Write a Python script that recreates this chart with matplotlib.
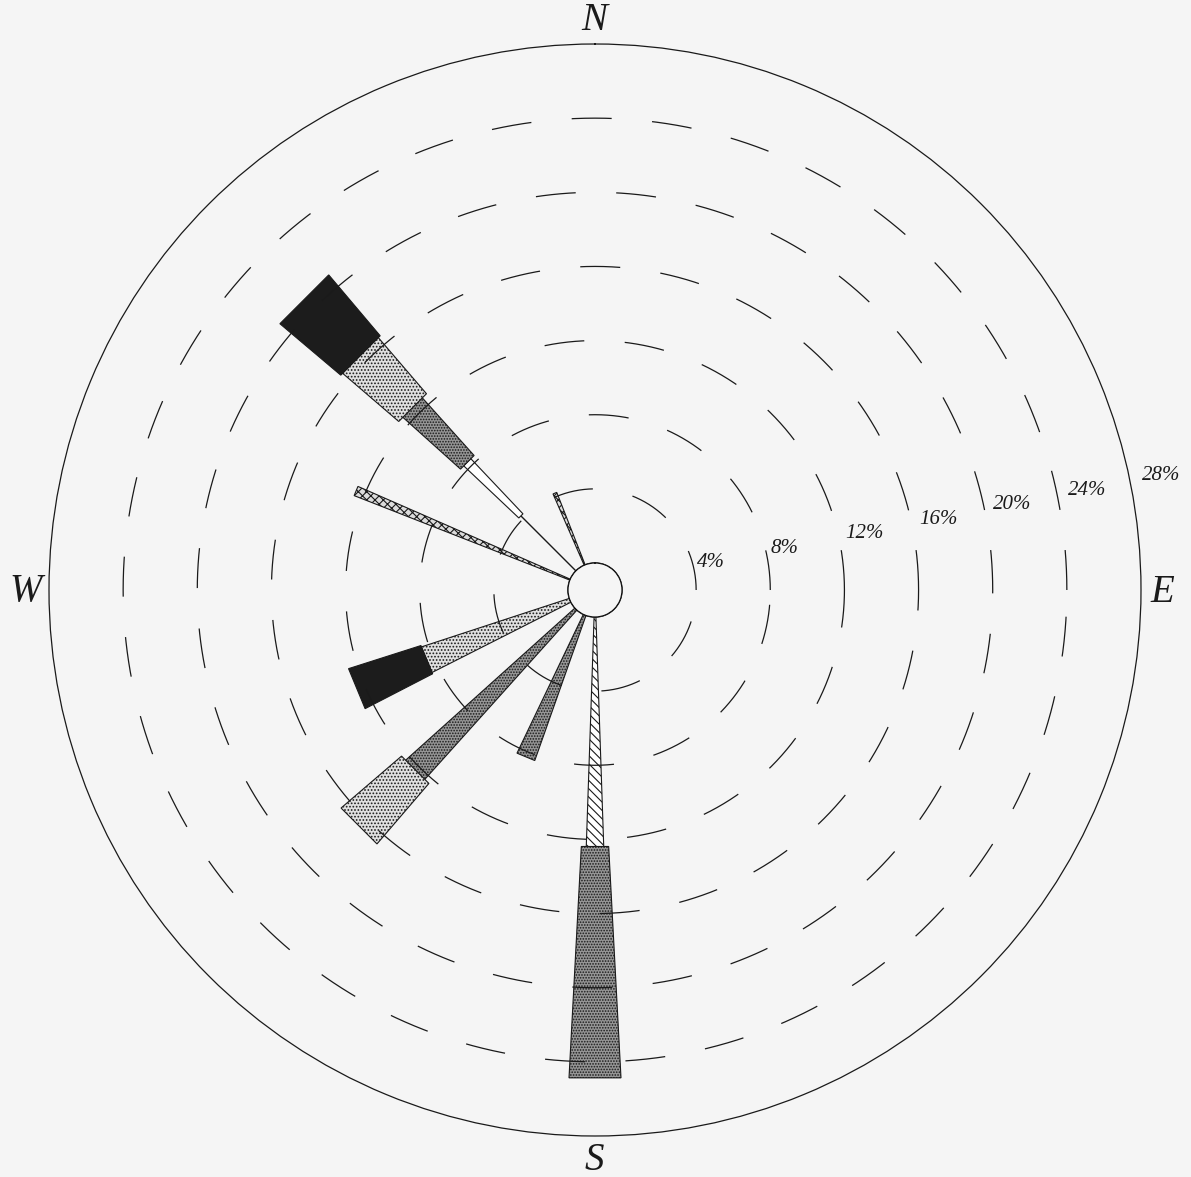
import numpy as np
import matplotlib
matplotlib.use("Agg")
import matplotlib.pyplot as plt

plt.rcParams["lines.scale_dashes"] = False
plt.rcParams["hatch.linewidth"] = 0.8

# ---------------------------------------------------------------- data
# compass sectors, bearing in degrees clockwise from north
directions = ["NNW", "NW", "WNW", "WSW", "SW", "SSW", "S"]
bearings = [337.5, 315.0, 292.5, 247.5, 225.0, 202.5, 180.0]

# frequency (%) of each speed class in each sector, calmest class first
line_pct = [0.0, 4.2, 0.0, 0.0, 0.0, 0.0, 0.0]
open_pct = [0.0, 4.1, 0.0, 0.0, 0.0, 0.0, 0.0]
cross_pct = [4.2, 0.0, 12.5, 0.0, 0.0, 0.0, 0.0]
hatch_pct = [0.0, 0.0, 0.0, 0.0, 0.0, 0.0, 12.4]
dark_pct = [0.0, 4.2, 0.0, 0.0, 12.3, 8.3, 12.5]
light_pct = [0.0, 4.0, 0.0, 8.4, 4.3, 0.0, 0.0]
black_pct = [0.0, 4.3, 0.0, 4.1, 0.0, 0.0, 0.0]

# frequency rings and their labels
rings = [4, 8, 12, 16, 20, 24, 28]
ring_labels = ["4%", "8%", "12%", "16%", "20%", "24%", "28%"]
compass = ["N", "E", "S", "W"]

# ---------------------------------------------------------------- styles
PAPER = "#f5f5f5"
INK = "#1a1a1a"
SERIF = ["Liberation Serif", "DejaVu Serif"]

# (values, angular width in degrees, face colour, hatch) per speed class
classes = [
    (line_pct, 0.0, None, None),
    (open_pct, 3.2, "white", None),
    (cross_pct, 2.2, "#dcdcdc", "xxxx"),
    (hatch_pct, 3.9, "white", "\\\\\\\\"),
    (dark_pct, 6.1, "#969696", "......"),
    (light_pct, 8.7, "#e0e0e0", "....."),
    (black_pct, 9.6, "#1c1c1c", None),
]

W, H = 1191, 1177
CX, CY = 595, 590          # centre of the rose, pixels from top-left
R_OUT = 546                # outer ring radius, px
R_HOLE = 27                # calm circle radius, px
RMAX = rings[-1]
r_origin = R_HOLE * RMAX / (R_OUT - R_HOLE)

fig = plt.figure(figsize=(W / 100, H / 100), dpi=100, facecolor=PAPER)
ax = fig.add_axes([(CX - R_OUT) / W, (H - CY - R_OUT) / H,
                   2 * R_OUT / W, 2 * R_OUT / H], projection="polar")
ax.set_facecolor(PAPER)
ax.set_theta_zero_location("N")
ax.set_theta_direction(-1)
ax.set_ylim(0, RMAX)
ax.set_rorigin(-r_origin)
ax.set_xticks([])
ax.set_yticks([])
ax.tick_params(length=0)
ax.grid(False)
for name, sp in ax.spines.items():
    if name == "polar":
        sp.set_linewidth(0.9)
        sp.set_color(INK)
    else:
        sp.set_visible(False)

theta = np.radians(bearings)

# stacked wedges, each speed class getting its own width and fill;
# segment ends are drawn as straight chords
base = np.zeros(len(directions))
for vals, wdeg, face, hatch in classes:
    vals = np.asarray(vals)
    m = vals > 0
    if wdeg == 0:
        ax.vlines(theta[m], base[m], base[m] + vals[m], color=INK,
                  linewidth=1.0, zorder=2)
    else:
        bars = ax.bar(theta[m], vals[m], width=np.radians(wdeg),
                      bottom=base[m], facecolor=face, edgecolor=INK,
                      linewidth=0.8, hatch=hatch, align="center", zorder=2)
        for b in bars:
            b.get_path()._interpolation_steps = 1
    base = base + vals

# dashed frequency rings, drawn anticlockwise from east
px_per_pt = 100 / 72
for v in rings[:-1]:
    t = np.linspace(np.pi / 2, np.pi / 2 - 2 * np.pi, 1441)
    ax.plot(t, np.full_like(t, v), color=INK, linewidth=0.9,
            linestyle=(0, (40 / px_per_pt, 40.5 / px_per_pt)), zorder=3)

# calm circle
t = np.linspace(0, 2 * np.pi, 721)
ax.plot(t, np.zeros_like(t), color=INK, linewidth=1.1, zorder=4)

# ring labels, stepping up and out along the east side
cx_disp = ax.transAxes.transform((0.5, 0.5))[0]
for v, lab in zip(rings, ring_labels):
    ex = ax.transData.transform((np.pi / 2, v))[0]
    rpx = ex - cx_disp
    dy = (0.196 * rpx + 7.3) / px_per_pt
    ax.annotate(lab, xy=(np.pi / 2, v), xycoords="data",
                xytext=(0.5, dy), textcoords="offset points",
                ha="left", va="center", fontsize=15, fontstyle="italic",
                family=SERIF, color=INK, annotation_clip=False)

# compass letters
pos = {"N": (594, 21), "E": (1162, 592), "S": (594, 1160), "W": (26, 592)}
for c in compass:
    x, y = pos[c]
    fig.text(x / W, 1 - y / H, c, ha="center", va="center", fontsize=28,
             fontstyle="italic", family=SERIF, color=INK)

fig.savefig("out.png", dpi=100, facecolor=PAPER)
